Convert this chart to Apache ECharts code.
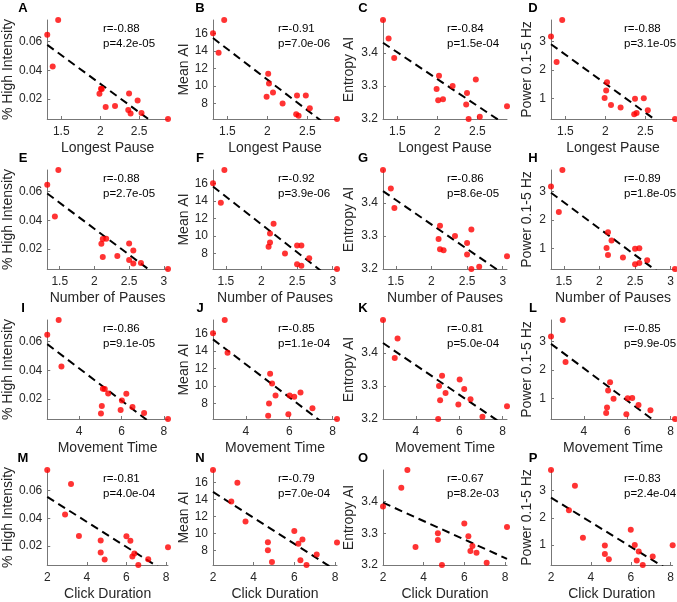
<!DOCTYPE html>
<html><head><meta charset="utf-8">
<script src="https://cdn.jsdelivr.net/npm/echarts@6/dist/echarts.min.js"></script>
<style>html,body{margin:0;padding:0;background:#fff}#c{width:677px;height:602px}</style>
</head><body><div id="c"></div>
<script>
// Predictors (one per row), one value per subject (14 subjects, same order everywhere)
const longestPause   = [1.32, 1.39, 1.46, 1.99, 2.01, 2.02, 2.07, 2.19, 2.36, 2.37, 2.39, 2.48, 2.53, 2.87];
const numberOfPauses = [1.32, 1.43, 1.48, 2.10, 2.17, 2.12, 2.12, 2.33, 2.50, 2.50, 2.56, 2.56, 2.67, 3.06];
const movementTime   = [2.49, 3.16, 3.03, 6.23, 5.12, 5.21, 6.52, 5.07, 5.96, 5.37, 5.03, 6.02, 7.07, 8.20];
const clickDuration  = [3.20, 2.90, 2.00, 6.20, 3.60, 6.00, 6.40, 4.70, 6.30, 4.70, 4.90, 8.10, 7.10, 6.60];
// Outcomes (one per column)
const highIntensity = [0.0648, 0.0427, 0.0750, 0.0237, 0.0272, 0.0270, 0.0146, 0.0153, 0.0124, 0.0240, 0.0101, 0.0190, 0.0104, 0.0062];
const meanAI        = [16.0, 13.77, 17.5, 8.78, 11.39, 10.27, 9.26, 8.0, 6.8, 8.93, 6.62, 8.92, 7.48, 6.25];
const entropyAI     = [3.500, 3.444, 3.385, 3.291, 3.257, 3.331, 3.260, 3.300, 3.244, 3.279, 3.200, 3.320, 3.207, 3.239];
const power01to5    = [3.172, 2.276, 3.747, 1.011, 1.276, 1.563, 0.770, 0.678, 0.440, 0.989, 0.488, 1.000, 0.586, 0.276];

const rowNames = ['Longest Pause', 'Number of Pauses', 'Movement Time', 'Click Duration'];
const colNames = ['% High Intensity', 'Mean AI', 'Entropy AI', 'Power 0.1-5 Hz'];
const rowTicks = [[1.5, 2, 2.5], [1.5, 2, 2.5, 3], [4, 6, 8], [2, 4, 6, 8]];
const colTicks = [[0.02, 0.04, 0.06], [8, 10, 12, 14, 16], [3.2, 3.3, 3.4], [1, 2, 3]];
const panelLetters = ['A','B','C','D','E','F','G','H','I','J','K','L','M','N','O','P'];
const rLabels = ['r=-0.88','r=-0.91','r=-0.84','r=-0.88','r=-0.88','r=-0.92','r=-0.86','r=-0.89',
                 'r=-0.86','r=-0.85','r=-0.81','r=-0.85','r=-0.81','r=-0.79','r=-0.67','r=-0.83'];
const pLabels = ['p=4.2e-05','p=7.0e-06','p=1.5e-04','p=3.1e-05','p=2.7e-05','p=3.9e-06','p=8.6e-05','p=1.8e-05',
                 'p=9.1e-05','p=1.1e-04','p=5.0e-04','p=9.9e-05','p=4.0e-04','p=7.0e-04','p=8.2e-03','p=2.4e-04'];

const rowData = [longestPause, numberOfPauses, movementTime, clickDuration];
const colData = [highIntensity, meanAI, entropyAI, power01to5];

// layout
const LEFT = [44, 213, 383, 551], TOP = [20, 170, 320, 470], W = 124, H = 99;
const Y_NAME_GAP = [29, 22, 27, 17];
const TEXT_DX = [59, 65, 64, 73];
const LETTER_DX = [-21, -13, -20, -18];
const FONT = "'Liberation Sans', Arial, Helvetica, sans-serif";
const AXC = '#777777', TXC = '#262626';

function fit(xs, ys) {
  const n = xs.length;
  const mx = xs.reduce((a, b) => a + b, 0) / n, my = ys.reduce((a, b) => a + b, 0) / n;
  let sxy = 0, sxx = 0;
  for (let i = 0; i < n; i++) { sxy += (xs[i] - mx) * (ys[i] - my); sxx += (xs[i] - mx) ** 2; }
  const b = sxy / sxx;
  return { a: my - b * mx, b };
}

const grid = [], xAxis = [], yAxis = [], series = [], graphic = [];
for (let r = 0; r < 4; r++) {
  for (let c = 0; c < 4; c++) {
    const k = r * 4 + c;
    const xs = rowData[r], ys = colData[c];
    const xmin = Math.min(...xs), xmax = Math.max(...xs);
    const ymin = Math.min(...ys), ymax = Math.max(...ys);
    grid.push({ left: LEFT[c], top: TOP[r], width: W, height: H, containLabel: false });
    xAxis.push({
      type: 'value', gridIndex: k, min: xmin, max: xmax,
      name: rowNames[r], nameLocation: 'middle', nameGap: 22,
      nameTextStyle: { fontSize: 14, color: TXC, fontFamily: FONT },
      axisLine: { show: true, onZero: false, lineStyle: { color: AXC, width: 1 } },
      axisTick: { show: true, inside: true, length: 3, customValues: rowTicks[r], lineStyle: { color: AXC } },
      axisLabel: { customValues: rowTicks[r], fontSize: 12, color: TXC, fontFamily: FONT, margin: 7 },
      splitLine: { show: false }
    });
    yAxis.push({
      type: 'value', gridIndex: k, min: ymin, max: ymax,
      name: colNames[c], nameLocation: 'middle', nameGap: Y_NAME_GAP[c], nameRotate: 90,
      nameTextStyle: { fontSize: 14, color: TXC, fontFamily: FONT },
      axisLine: { show: true, onZero: false, lineStyle: { color: AXC, width: 1 } },
      axisTick: { show: true, inside: true, length: 3, customValues: colTicks[c], lineStyle: { color: AXC } },
      axisLabel: { customValues: colTicks[c], fontSize: 12, color: TXC, fontFamily: FONT, margin: 5 },
      splitLine: { show: false }
    });
    const f = fit(xs, ys);
    series.push({
      type: 'line', xAxisIndex: k, yAxisIndex: k, clip: true, symbol: 'none', silent: true,
      data: [[xmin, f.a + f.b * xmin], [xmax, f.a + f.b * xmax]],
      lineStyle: { color: '#000', width: 2, type: [8, 5] }, z: 2
    });
    series.push({
      type: 'scatter', xAxisIndex: k, yAxisIndex: k, clip: false, symbolSize: 6,
      itemStyle: { color: '#ff0000' }, data: xs.map((x, i) => [x, ys[i]]), z: 3
    });
    graphic.push({ type: 'text', x: LEFT[c] + LETTER_DX[c], y: TOP[r] - 12,
      style: { text: panelLetters[k], font: "bold 13px " + FONT, fill: '#000', align: 'center', verticalAlign: 'middle' } });
    graphic.push({ type: 'text', x: LEFT[c] + TEXT_DX[c], y: TOP[r] + 9,
      style: { text: rLabels[k], font: "11.5px " + FONT, fill: '#000', align: 'left', verticalAlign: 'middle' } });
    graphic.push({ type: 'text', x: LEFT[c] + TEXT_DX[c], y: TOP[r] + 24,
      style: { text: pLabels[k], font: "11.5px " + FONT, fill: '#000', align: 'left', verticalAlign: 'middle' } });
  }
}

const chart = echarts.init(document.getElementById('c'), null, { renderer: 'canvas' });
chart.setOption({ animation: false, backgroundColor: '#fff', grid, xAxis, yAxis, series, graphic });
</script></body></html>
